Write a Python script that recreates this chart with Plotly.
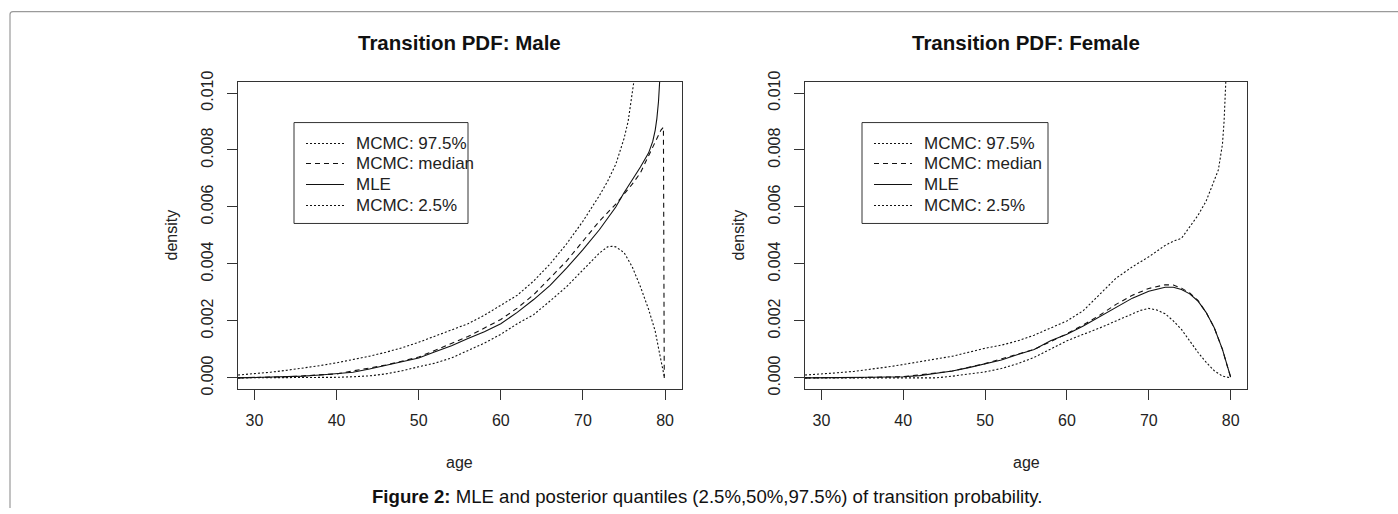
import plotly.graph_objects as go

# ---------------- data ----------------
male_mle_age = [28, 30, 32, 34, 36, 38, 40, 42, 44, 46, 48, 50, 52, 54, 56, 58, 60, 62, 64, 66, 68, 70, 72, 74, 75, 76, 77, 78, 78.5, 78.8, 79.0, 79.2, 79.35, 79.5]
male_mle = [0.0, 0.00001, 0.00002, 0.00004, 0.00006, 0.0001, 0.00014, 0.0002, 0.00031, 0.00044, 0.00056, 0.0007, 0.00092, 0.00113, 0.00138, 0.00162, 0.0019, 0.0023, 0.00275, 0.00325, 0.00385, 0.0045, 0.0052, 0.006, 0.0065, 0.00695, 0.0074, 0.0079, 0.0083, 0.0087, 0.0091, 0.0097, 0.0104, 0.0112]

male_med_age = [28, 30, 34, 40, 46, 50, 56, 60, 62, 64, 66, 68, 70, 72, 74, 76, 77, 78, 79, 79.5, 79.8, 79.85, 79.9]
male_med = [0.0, 0.00001, 0.00004, 0.00014, 0.00045, 0.00073, 0.00145, 0.00205, 0.00245, 0.00292, 0.0035, 0.0041, 0.0048, 0.0055, 0.0061, 0.0068, 0.0072, 0.0078, 0.0084, 0.0087, 0.0088, 0.0040, 0.0]

male_hi_age = [28, 30, 32, 34, 36, 38, 40, 42, 44, 46, 48, 50, 52, 54, 56, 58, 60, 62, 64, 66, 68, 70, 72, 73, 74, 75, 75.5, 76, 76.5]
male_hi = [0.0001, 0.00014, 0.0002, 0.00027, 0.00034, 0.00043, 0.00053, 0.00064, 0.00076, 0.0009, 0.00106, 0.00125, 0.00146, 0.00168, 0.0019, 0.0022, 0.00255, 0.0029, 0.0034, 0.0040, 0.0047, 0.0055, 0.0064, 0.0069, 0.0075, 0.0084, 0.0090, 0.0099, 0.0110]

male_lo_age = [28, 30, 35, 40, 42, 44, 46, 48, 50, 52, 54, 56, 58, 60, 62, 64, 65, 66, 68, 70, 72, 73, 73.5, 74, 75, 76, 77, 78, 78.8, 79.3, 79.6, 79.9]
male_lo = [0.0, 0.0, 0.0, 0.00002, 0.00004, 0.00007, 0.00014, 0.00025, 0.00039, 0.00052, 0.0007, 0.00095, 0.00122, 0.00153, 0.0019, 0.00222, 0.00245, 0.0027, 0.0032, 0.0038, 0.00438, 0.0046, 0.00462, 0.0046, 0.0044, 0.0039, 0.0032, 0.0024, 0.00164, 0.0009, 0.00045, 0.00005]

fem_mle_age = [28, 30, 32, 34, 36, 38, 40, 42, 44, 46, 48, 50, 52, 54, 56, 58, 60, 62, 64, 66, 68, 70, 72, 73, 74, 75, 76, 77, 78, 79, 79.5, 80]
fem_mle = [0.0, 0.0, 0.000005, 0.00001, 0.00002, 0.00003, 0.00004, 0.00008, 0.00015, 0.00024, 0.00036, 0.0005, 0.00063, 0.00082, 0.001, 0.0013, 0.00153, 0.00182, 0.00215, 0.0025, 0.0028, 0.00304, 0.00318, 0.00318, 0.0031, 0.00295, 0.0027, 0.0023, 0.00176, 0.001, 0.0005, 0.00003]

fem_med_age = [28, 30, 34, 40, 46, 50, 56, 60, 62, 64, 66, 68, 70, 72, 73, 74, 75, 76, 77, 78, 79, 79.5, 80]
fem_med = [0.0, 0.0, 0.00001, 0.00004, 0.00024, 0.0005, 0.001, 0.00155, 0.00186, 0.0022, 0.00258, 0.0029, 0.00314, 0.00327, 0.00326, 0.00315, 0.00298, 0.00272, 0.0023, 0.00176, 0.001, 0.0005, 0.00003]

fem_hi_age = [28, 30, 32, 34, 36, 38, 40, 42, 44, 46, 48, 50, 52, 54, 56, 58, 60, 62, 64, 66, 68, 70, 72, 73, 74, 75, 76, 77, 78, 78.5, 79, 79.2, 79.5]
fem_hi = [0.0001, 0.00013, 0.00018, 0.00023, 0.0003, 0.00038, 0.00047, 0.00056, 0.00065, 0.00076, 0.0009, 0.00104, 0.00115, 0.0013, 0.0015, 0.00176, 0.002, 0.00236, 0.00292, 0.0035, 0.0039, 0.00425, 0.00465, 0.0048, 0.0049, 0.0053, 0.0057, 0.0062, 0.0069, 0.0073, 0.0082, 0.0090, 0.0110]

fem_lo_age = [28, 44, 46, 48, 50, 52, 54, 56, 58, 60, 62, 64, 66, 68, 69, 70, 71, 72, 73, 74, 75, 76, 77, 78, 79, 80]
fem_lo = [0.0, 0.0, 0.00006, 0.00013, 0.00021, 0.00033, 0.0005, 0.00072, 0.00101, 0.0013, 0.00153, 0.00175, 0.002, 0.00226, 0.00237, 0.00244, 0.00238, 0.00225, 0.002, 0.0017, 0.0013, 0.0009, 0.00055, 0.00025, 0.00006, 0.0]

x_ticks = [30, 40, 50, 60, 70, 80]
y_ticks = [0.0, 0.002, 0.004, 0.006, 0.008, 0.010]
legend_labels = ["MCMC: 97.5%", "MCMC: median", "MLE", "MCMC: 2.5%"]
titles = ["Transition PDF: Male", "Transition PDF: Female"]
caption_bold = "Figure 2:"
caption_rest = " MLE and posterior quantiles (2.5%,50%,97.5%) of transition probability."

# ---------------- layout constants ----------------
W, H = 1398, 514
FONT = "Liberation Sans, Arial, sans-serif"
DOT = "2px,2px"
DASH = "5px,4px"
LINEC = "#111111"
# observed vertical placement of the page in the photograph (offset, scale)
V_OFF, V_SC = 9.3, 0.968

def px_x(p):
    return p / W

def px_y(p):
    return 1 - ((p - V_OFF) / V_SC) / H

panels = [
    dict(x0=238, x1=681.5, xa="x", ya="y",
         series=[(male_hi_age, male_hi, DOT), (male_med_age, male_med, DASH),
                 (male_mle_age, male_mle, "solid"), (male_lo_age, male_lo, DOT)],
         leg=(294, 468)),
    dict(x0=805, x1=1247, xa="x2", ya="y2",
         series=[(fem_hi_age, fem_hi, DOT), (fem_med_age, fem_med, DASH),
                 (fem_mle_age, fem_mle, "solid"), (fem_lo_age, fem_lo, DOT)],
         leg=(862, 1048)),
]
TOP, BOT = 80, 388

fig = go.Figure()
shapes = []
annotations = []

for i, p in enumerate(panels):
    for ages, vals, dash in p["series"]:
        fig.add_trace(go.Scatter(x=ages, y=vals, mode="lines", xaxis=p["xa"], yaxis=p["ya"],
                                 line=dict(color=LINEC, width=1.1, dash=dash),
                                 showlegend=False, hoverinfo="skip"))
    suffix = "" if i == 0 else "2"
    axis_common = dict(showline=True, mirror=True, linecolor="#333333", linewidth=1,
                       ticks="outside", ticklen=10, tickcolor="#333333", showgrid=False,
                       zeroline=False, tickfont=dict(family=FONT, size=16, color="#222222"))
    fig.update_layout(**{
        "xaxis" + suffix: dict(domain=[px_x(p["x0"]), px_x(p["x1"])], range=[28, 82],
                               tickvals=x_ticks, anchor="y" + suffix,
                               ticklabelstandoff=7, **axis_common),
        "yaxis" + suffix: dict(domain=[px_y(BOT), px_y(TOP)], range=[-0.0004, 0.0104],
                               tickvals=y_ticks, tickformat=".3f", tickangle=-90,
                               anchor="x" + suffix, ticklabelstandoff=8, **axis_common),
    })
    cx = (p["x0"] + p["x1"]) / 2
    annotations.append(dict(text="<b>" + titles[i] + "</b>", x=px_x(cx), y=px_y(41),
                            xref="paper", yref="paper", showarrow=False,
                            font=dict(family=FONT, size=20.5, color="#111111"),
                            xanchor="center", yanchor="middle"))
    annotations.append(dict(text="age", x=px_x(cx), y=px_y(461), xref="paper", yref="paper",
                            showarrow=False, font=dict(family=FONT, size=16, color="#222222"),
                            xanchor="center", yanchor="middle"))
    annotations.append(dict(text="density", x=px_x(p["x0"] - 67), y=px_y((TOP + BOT) / 2),
                            xref="paper", yref="paper", showarrow=False, textangle=-90,
                            font=dict(family=FONT, size=16, color="#222222"),
                            xanchor="center", yanchor="middle"))
    # legend box
    lx0, lx1 = p["leg"]
    shapes.append(dict(type="rect", xref="paper", yref="paper", x0=px_x(lx0), x1=px_x(lx1),
                       y0=px_y(222), y1=px_y(121), line=dict(color="#333333", width=1),
                       fillcolor="white"))
    rows = [142, 162, 183, 204]
    dashes = [DOT, DASH, "solid", DOT]
    for r, lab, d in zip(rows, legend_labels, dashes):
        shapes.append(dict(type="line", xref="paper", yref="paper", x0=px_x(lx0 + 12),
                           x1=px_x(lx0 + 50), y0=px_y(r), y1=px_y(r),
                           line=dict(color=LINEC, width=1.1, dash=d)))
        annotations.append(dict(text=lab, x=px_x(lx0 + 60), y=px_y(r), xref="paper", yref="paper",
                                showarrow=False, xanchor="left", yanchor="middle",
                                font=dict(family=FONT, size=17, color="#222222")))

# caption
annotations.append(dict(text="<b>" + caption_bold + "</b>" + caption_rest, x=px_x(707), y=px_y(495),
                        xref="paper", yref="paper", showarrow=False, xanchor="center",
                        yanchor="middle",
                        font=dict(family=FONT, size=18.6, color="#111111")))

# outer frame
fx, fy = 10, 9.9
fy_top = px_y(fy)
fy_r = px_y(fy + 3)
shapes.append(dict(type="path", xref="paper", yref="paper",
                   path=f"M {px_x(fx)},0 L {px_x(fx)},{fy_r} "
                        f"Q {px_x(fx)},{fy_top} {px_x(fx + 3)},{fy_top} L 1,{fy_top}",
                   line=dict(color="#9a9a9a", width=1.2)))

fig.update_layout(width=W, height=H, autosize=False,
                  margin=dict(l=0, r=0, t=0, b=0),
                  paper_bgcolor="white", plot_bgcolor="white",
                  shapes=shapes, annotations=annotations, showlegend=False)

fig.write_html("out.html",
               config={"displayModeBar": False, "responsive": False},
               post_script="var de=document.documentElement;de.style.margin='0';de.style.padding='0';"
                           "de.style.overflow='hidden';de.style.height='514px';"
                           "document.body.style.margin='0';document.body.style.padding='0';"
                           "document.body.style.overflow='hidden';document.body.style.height='514px';"
                           "var gd=document.getElementById('{plot_id}');"
                           "gd.style.position='fixed';gd.style.top='0px';gd.style.left='0px';"
                           "window.scrollTo(0,0);")
